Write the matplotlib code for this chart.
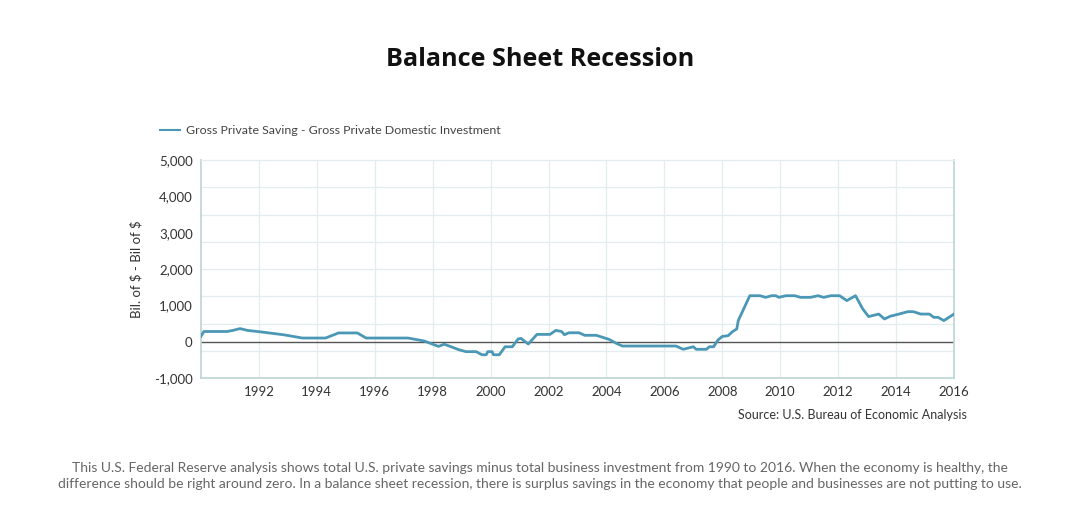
import matplotlib
matplotlib.use("Agg")
import matplotlib.pyplot as plt
import numpy as np

plt.rcParams['font.family'] = ['Lato', 'DejaVu Sans']

years = [1990.0, 1990.1, 1990.9, 1991.1, 1991.35, 1991.6, 1992.0, 1992.85, 1993.5, 1994.3,
         1994.75, 1995.4, 1995.7, 1997.15, 1997.7, 1998.2, 1998.4, 1998.9, 1999.15, 1999.5,
         1999.7, 1999.85, 1999.9, 2000.05, 2000.1, 2000.3, 2000.5, 2000.75, 2000.95, 2001.05,
         2001.3, 2001.6, 2002.05, 2002.25, 2002.45, 2002.55, 2002.7, 2003.05, 2003.25, 2003.65,
         2004.1, 2004.35, 2004.55, 2006.4, 2006.65, 2007.0, 2007.1, 2007.45, 2007.55, 2007.7,
         2007.85, 2008.0, 2008.2, 2008.35, 2008.5, 2008.55, 2008.95, 2009.3, 2009.5, 2009.7,
         2009.85, 2009.95, 2010.2, 2010.5, 2010.7, 2011.05, 2011.3, 2011.5, 2011.75, 2012.05,
         2012.3, 2012.6, 2012.85, 2013.05, 2013.4, 2013.6, 2013.8, 2014.1, 2014.4, 2014.6,
         2014.85, 2015.15, 2015.3, 2015.45, 2015.65, 2016.0]
values = [150, 280, 280, 310, 360, 310, 275, 190, 100, 100,
          240, 240, 100, 100, 20, -130, -70, -220, -275, -275,
          -360, -360, -275, -275, -360, -360, -140, -140, 75, 90,
          -65, 200, 200, 310, 280, 190, 245, 245, 175, 175,
          60, -50, -120, -120, -210, -140, -210, -210, -140, -140,
          45, 145, 165, 275, 350, 580, 1265, 1265, 1220, 1265,
          1265, 1220, 1265, 1265, 1220, 1220, 1265, 1220, 1265, 1265,
          1130, 1265, 900, 690, 760, 625, 700, 760, 825, 825,
          760, 760, 670, 670, 580, 760]

series_label = "Gross Private Saving - Gross Private Domestic Investment"
title = "Balance Sheet Recession"
y_label = r"Bil. of \$ - Bil of \$"
source = "Source: U.S. Bureau of Economic Analysis"
caption_lines = ["This U.S. Federal Reserve analysis shows total U.S. private savings minus total business investment from 1990 to 2016. When the economy is healthy, the",
                 "difference should be right around zero. In a balance sheet recession, there is surplus savings in the economy that people and businesses are not putting to use."]
x_ticks = list(range(1992, 2017, 2))
y_ticks = [-1000, 0, 1000, 2000, 3000, 4000, 5000]
grid_y = list(range(-1000, 5001, 750))

fig = plt.figure(figsize=(10.8, 5.31), dpi=100)
ax = fig.add_axes([201/1080, 1-378/531, (954-201)/1080, (378-160)/531])

line_color = '#4b98b6'
ax.plot(years, values, color=line_color, lw=2.0, solid_joinstyle='round', zorder=3,
        label=series_label)
ax.axhline(0, color='#555555', lw=1.0, zorder=2)

ax.set_xlim(1990, 2016)
ax.set_ylim(-1000, 5000)
ax.set_xticks(x_ticks)
ax.set_xticklabels([str(t) for t in x_ticks])
ax.set_yticks(y_ticks)
ax.set_yticklabels([f"{t:,}" for t in y_ticks])
ax.grid(False)
for g in grid_y[1:-1]:
    ax.axhline(g, color='#e3ecee', lw=0.9, zorder=1)
for t in x_ticks[:-1]:
    ax.axvline(t, color='#e3ecee', lw=0.9, zorder=1)

ax.tick_params(axis='both', length=0, labelsize=9.5, colors='#333333', pad=6)
for s in ['left', 'bottom', 'right']:
    ax.spines[s].set_color('#bcd4d4')
    ax.spines[s].set_linewidth(1.2)
ax.spines['top'].set_color('#e3ecee')
ax.spines['top'].set_linewidth(0.9)

ax.set_ylabel(y_label, fontsize=9.5, color='#333333', labelpad=8)

fig.text(0.5, 1-66.5/531, title, ha='center', va='baseline', fontsize=18.2, fontweight='bold',
         color='#111111', family=['Open Sans', 'DejaVu Sans'])

# legend
fig.add_artist(plt.Line2D([160/1080, 180/1080], [1-130/531, 1-130/531], color=line_color, lw=1.5))
fig.text(186/1080, 1-130/531, series_label, ha='left', va='center', fontsize=8.9, color='#444444')

fig.text(967/1080, 1-415/531, source, ha='right', va='center', fontsize=9, color='#333333')
for i, ln in enumerate(caption_lines):
    fig.text(540/1080, 1-(472.5 + 15.5*i)/531, ln, ha='center', va='baseline', fontsize=10,
             color='#666666')

fig.savefig('out.png', dpi=100, facecolor='white')
